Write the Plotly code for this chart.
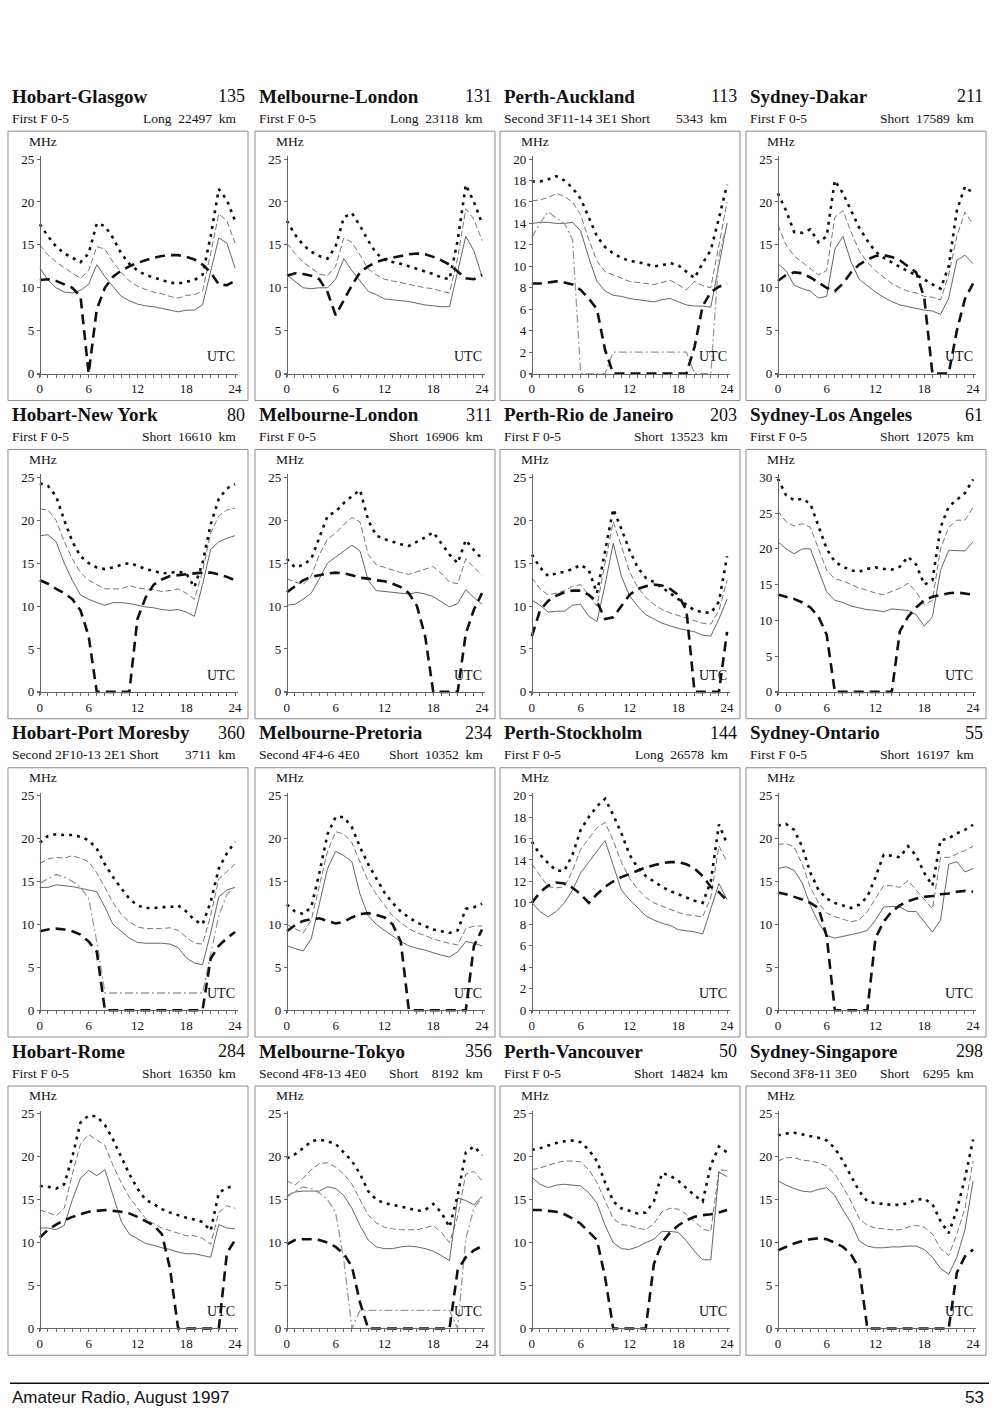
import plotly.graph_objects as go

HOURS = list(range(25))
X_TICK_TEXT = [str(h) if h % 6 == 0 else "" for h in HOURS]

# ---------- panel texts ----------
TITLES = ["Hobart-Glasgow", "Melbourne-London", "Perth-Auckland", "Sydney-Dakar",
          "Hobart-New York", "Melbourne-London", "Perth-Rio de Janeiro", "Sydney-Los Angeles",
          "Hobart-Port Moresby", "Melbourne-Pretoria", "Perth-Stockholm", "Sydney-Ontario",
          "Hobart-Rome", "Melbourne-Tokyo", "Perth-Vancouver", "Sydney-Singapore"]
NUMBERS = ["135", "131", "113", "211", "80", "311", "203", "61",
           "360", "234", "144", "55", "284", "356", "50", "298"]
SUB_LEFT = ["First F 0-5", "First F 0-5", "Second 3F11-14 3E1 Short", "First F 0-5",
            "First F 0-5", "First F 0-5", "First F 0-5", "First F 0-5",
            "Second 2F10-13 2E1 Short", "Second 4F4-6 4E0", "First F 0-5", "First F 0-5",
            "First F 0-5", "Second 4F8-13 4E0", "First F 0-5", "Second 3F8-11 3E0"]
SUB_RIGHT = ["Long  22497  km", "Long  23118  km", "5343  km", "Short  17589  km",
             "Short  16610  km", "Short  16906  km", "Short  13523  km", "Short  12075  km",
             "3711  km", "Short  10352  km", "Long  26578  km", "Short  16197  km",
             "Short  16350  km", "Short    8192  km", "Short  14824  km", "Short    6295  km"]
Y_MAX = [25, 25, 20, 25, 25, 25, 25, 30, 25, 25, 20, 25, 25, 25, 25, 25]
Y_DTICK = [5, 5, 2, 5, 5, 5, 5, 5, 5, 5, 2, 5, 5, 5, 5, 5]

# ---------- series (MHz at each UTC hour 0..24) ----------
# 1 Hobart-Glasgow
P1_TOP = [17.4,16.0,14.8,14.0,13.5,13.0,14.0,17.5,17.2,15.8,14.0,12.8,12.0,11.5,11.2,10.9,10.6,10.5,10.7,10.9,11.5,16.0,21.5,20.2,17.8]
P1_MID = [15.0,13.8,13.0,12.3,11.7,11.1,12.0,14.8,14.5,13.0,11.8,10.8,10.2,9.8,9.5,9.3,9.0,8.8,9.1,9.2,9.6,14.0,18.6,17.8,15.2]
P1_LOW = [12.3,10.9,10.0,9.5,9.4,9.7,10.4,12.7,11.3,10.2,9.0,8.5,8.1,7.9,7.8,7.6,7.4,7.2,7.4,7.4,8.0,12.0,15.8,15.2,12.3]
P1_ALF = [10.9,11.0,10.8,10.4,10.0,9.0,0.0,7.5,10.0,11.3,12.0,12.5,12.9,13.2,13.5,13.7,13.8,13.8,13.6,13.3,12.7,11.8,10.4,10.3,10.8]
# 2 Melbourne-London (long)
P2_TOP = [17.8,16.2,15.0,14.2,13.7,13.4,14.8,18.2,18.7,17.2,15.5,14.0,13.3,13.0,12.8,12.5,12.2,11.9,11.6,11.2,11.0,15.5,22.0,20.0,17.5]
P2_MID = [15.2,14.0,13.0,12.3,11.6,11.4,12.5,15.8,15.3,13.8,12.2,11.5,11.0,10.8,10.6,10.4,10.2,10.0,9.9,9.6,9.4,13.5,19.2,18.0,15.5]
P2_LOW = [11.5,10.8,10.0,9.9,10.0,10.0,11.0,13.4,12.0,10.8,9.6,9.2,8.7,8.6,8.5,8.4,8.2,8.0,7.9,7.8,7.8,12.0,16.0,14.3,11.3]
P2_ALF = [11.4,11.7,11.6,11.4,11.0,9.5,6.8,8.5,10.3,11.8,12.5,13.0,13.3,13.5,13.7,13.9,14.0,13.9,13.6,13.2,12.7,11.9,11.1,11.0,11.5]
# 3 Perth-Auckland
P3_TOP = [17.9,17.9,18.1,18.4,18.0,17.3,16.3,14.5,12.8,11.8,11.2,10.8,10.5,10.4,10.2,10.0,10.1,10.3,10.1,9.5,8.9,10.3,11.5,14.5,17.6]
P3_MID = [16.1,16.2,16.4,16.8,16.5,16.0,14.8,12.5,10.5,9.5,9.2,8.9,8.6,8.5,8.4,8.3,8.5,8.7,8.3,7.8,8.6,8.2,8.0,12.0,16.0]
P3_LOW = [14.0,14.1,14.1,14.0,14.0,14.1,13.3,10.8,8.6,7.7,7.3,7.2,7.0,6.9,6.8,6.7,6.9,7.0,6.7,6.4,6.3,6.3,6.2,10.0,14.0]
P3_ESL = [12.7,14.0,15.1,14.5,14.0,12.5,0.0,0.0,0.0,0.0,2.0,2.0,2.0,2.0,2.0,2.0,2.0,2.0,2.0,2.0,0.0,0.0,0.0,11.0,14.0]
P3_ALF = [8.4,8.4,8.5,8.6,8.5,8.3,7.8,7.0,6.0,2.2,0.0,0.0,0.0,0.0,0.0,0.0,0.0,0.0,0.0,0.0,2.5,6.3,7.6,8.1,8.4]
# 4 Sydney-Dakar
P4_TOP = [21.0,19.0,16.5,16.4,16.8,15.3,16.0,22.5,21.0,19.0,17.0,15.5,14.2,13.5,13.0,12.4,11.9,11.5,10.9,10.4,9.9,12.5,19.0,21.8,21.0]
P4_MID = [17.3,15.0,13.7,13.0,12.2,11.5,12.0,18.2,19.0,16.5,14.3,13.0,12.0,11.2,10.5,10.0,9.6,9.4,9.0,8.9,8.6,11.5,16.0,18.8,17.4]
P4_LOW = [12.8,12.0,10.3,9.9,9.6,8.8,9.0,14.5,16.0,13.0,11.0,10.2,9.5,8.9,8.4,8.0,7.8,7.6,7.4,7.3,6.9,8.8,13.2,13.8,12.8]
P4_ALF = [10.8,11.5,11.8,11.7,11.2,10.6,10.0,9.6,10.5,11.8,12.7,13.3,13.7,13.8,13.6,13.2,12.5,11.8,8.8,0.0,0.0,0.0,5.0,8.7,10.5]
# 5 Hobart-New York
P5_TOP = [24.3,24.0,22.8,20.0,17.5,15.8,15.0,14.5,14.3,14.5,14.8,15.0,14.7,14.3,14.1,13.8,13.9,14.0,13.8,12.2,15.0,19.5,22.5,23.7,24.2]
P5_MID = [21.3,21.2,20.0,17.5,15.5,13.9,13.0,12.5,12.0,12.0,12.0,12.4,12.1,12.0,11.9,11.7,11.8,12.0,11.5,10.8,14.0,18.5,20.5,21.2,21.4]
P5_LOW = [18.2,18.3,17.5,15.0,13.0,11.3,10.8,10.4,10.1,10.4,10.4,10.3,10.1,9.9,9.8,9.6,9.5,9.6,9.3,8.8,12.5,16.6,17.5,17.9,18.2]
P5_ALF = [13.0,12.6,12.0,11.5,10.8,9.5,6.5,0.0,0.0,0.0,0.0,0.0,8.5,11.0,12.5,13.1,13.5,13.6,13.7,13.8,13.9,13.9,13.7,13.4,13.0]
# 6 Melbourne-London (short)
P6_TOP = [15.5,14.5,14.8,15.5,18.0,20.5,21.0,22.0,22.8,23.5,20.0,18.2,17.8,17.5,17.2,17.0,17.5,18.0,18.6,17.3,16.0,15.0,17.7,16.5,15.5]
P6_MID = [13.2,12.8,12.5,13.5,16.0,17.8,18.5,19.5,20.3,19.8,16.0,14.8,14.5,14.2,13.9,13.7,14.0,14.3,14.6,13.8,12.8,12.6,15.5,14.5,13.6]
P6_LOW = [10.1,10.2,10.8,11.5,13.2,15.0,15.7,16.4,17.1,16.4,13.0,11.8,11.7,11.6,11.5,11.4,11.6,11.4,11.1,10.5,9.9,10.3,11.9,11.0,10.2]
P6_ALF = [11.6,12.3,13.0,13.4,13.6,13.8,13.9,13.8,13.6,13.3,13.2,13.0,12.9,12.6,12.2,11.5,10.0,6.5,0.0,0.0,0.0,0.0,6.8,9.6,11.5]
# 7 Perth-Rio de Janeiro
P7_TOP = [16.0,14.5,13.5,13.8,14.0,14.3,14.8,14.2,11.5,16.5,21.3,19.0,16.5,14.5,13.3,12.8,12.2,11.5,10.8,10.2,9.5,9.3,9.2,10.5,15.8]
P7_MID = [13.3,12.0,11.3,11.5,11.8,12.3,12.5,11.2,10.0,15.0,19.8,17.0,14.0,12.2,11.0,10.2,9.6,9.2,8.9,8.6,8.3,8.0,7.9,9.5,13.0]
P7_LOW = [10.7,10.1,9.3,9.4,9.4,10.1,10.2,8.8,8.2,12.5,17.3,13.5,11.2,10.0,9.0,8.5,8.0,7.7,7.4,7.2,7.0,6.6,6.5,8.5,10.8]
P7_ALF = [6.5,9.5,10.6,11.2,11.6,11.8,11.8,11.3,10.5,8.5,8.7,10.0,11.3,12.0,12.3,12.5,12.4,12.0,11.3,9.5,0.0,0.0,0.0,0.0,7.0]
# 8 Sydney-Los Angeles
P8_TOP = [29.8,27.5,26.8,27.0,26.3,23.0,20.0,18.2,17.5,17.0,16.8,17.2,17.4,17.2,17.1,17.5,18.9,17.8,15.0,15.6,23.0,25.9,26.8,27.8,29.7]
P8_MID = [25.3,23.8,23.2,23.5,23.0,20.0,17.0,15.8,15.5,15.0,14.5,14.2,13.8,13.6,14.0,14.5,15.2,14.0,12.2,12.8,20.0,23.0,24.0,24.0,25.8]
P8_LOW = [21.0,20.0,19.3,20.0,20.0,17.0,14.0,12.8,12.5,12.0,11.7,11.5,11.4,11.2,11.6,11.5,11.4,10.8,9.2,10.5,17.0,19.8,19.7,19.7,21.0]
P8_ALF = [13.6,13.3,13.0,12.5,11.8,10.5,8.0,0.0,0.0,0.0,0.0,0.0,0.0,0.0,0.0,8.5,10.5,11.8,12.8,13.3,13.6,13.8,13.9,13.8,13.6]
# 9 Hobart-Port Moresby
P9_TOP = [19.5,20.3,20.5,20.4,20.4,20.2,19.8,18.8,17.0,15.5,14.2,13.0,12.2,11.9,11.9,12.0,12.0,12.2,11.5,10.5,10.0,12.6,16.5,18.3,19.6]
P9_MID = [17.1,17.6,17.8,17.7,18.0,17.7,17.3,16.0,14.3,12.5,11.2,10.3,9.7,9.5,9.5,9.5,9.6,9.3,8.5,7.8,7.7,11.0,15.3,16.2,17.0]
P9_LOW = [14.3,14.3,14.6,14.5,14.4,14.2,14.0,13.8,12.0,10.0,9.2,8.4,7.9,7.8,7.8,7.8,7.7,7.3,6.1,5.5,5.3,9.0,13.2,14.0,14.3]
P9_ESL = [14.8,15.3,15.8,15.5,15.0,14.3,13.0,8.0,2.0,2.0,2.0,2.0,2.0,2.0,2.0,2.0,2.0,2.0,2.0,2.0,2.0,6.5,11.0,13.5,14.5]
P9_ALF = [9.2,9.4,9.5,9.4,9.2,8.8,8.0,6.8,0.0,0.0,0.0,0.0,0.0,0.0,0.0,0.0,0.0,0.0,0.0,0.0,0.0,6.0,7.5,8.4,9.1]
# 10 Melbourne-Pretoria
P10_TOP = [12.3,11.5,11.2,12.0,16.0,20.5,22.5,22.5,21.3,19.0,17.0,15.3,13.7,12.5,11.5,10.8,10.2,9.8,9.4,9.2,9.0,9.3,11.8,12.0,12.4]
P10_MID = [10.0,9.5,9.0,10.5,14.5,18.5,20.8,20.5,19.5,17.2,15.0,13.5,12.2,11.0,10.2,9.5,9.0,8.7,8.3,8.0,7.8,7.6,9.5,9.8,9.8]
P10_LOW = [7.5,7.2,6.9,8.3,12.5,16.5,18.5,18.0,17.3,13.5,11.0,10.0,9.3,8.6,8.0,7.5,7.2,7.0,6.7,6.4,6.2,6.8,8.0,7.8,7.5]
P10_ALF = [9.2,9.9,10.4,10.6,10.7,10.4,10.1,10.3,10.8,11.2,11.3,11.1,10.8,10.0,8.0,0.0,0.0,0.0,0.0,0.0,0.0,0.0,0.0,7.5,9.4]
# 11 Perth-Stockholm
P11_TOP = [15.7,14.5,13.7,13.0,13.0,14.5,16.8,18.0,19.0,19.7,18.2,16.5,14.5,13.3,12.5,12.0,11.5,11.1,10.8,10.5,10.2,10.0,12.0,17.3,15.5]
P11_MID = [13.6,12.5,11.5,11.4,11.5,13.0,15.0,16.0,17.0,17.5,15.8,13.8,12.3,11.3,10.5,10.0,9.7,9.4,9.1,8.9,8.8,8.7,10.5,15.3,13.8]
P11_LOW = [10.0,9.2,8.7,9.2,10.0,11.2,12.8,13.8,14.8,15.8,13.5,11.2,10.3,9.5,8.8,8.4,8.1,7.9,7.5,7.4,7.3,7.1,9.5,11.8,10.3]
P11_ALF = [10.0,11.0,11.6,11.9,11.8,11.4,10.8,10.0,10.8,11.5,12.0,12.4,12.7,13.0,13.3,13.5,13.7,13.8,13.8,13.6,13.2,12.5,11.5,11.0,10.2]
# 12 Sydney-Ontario
P12_TOP = [21.5,21.7,21.0,19.0,16.0,14.0,13.0,12.5,12.2,11.9,12.3,13.2,15.5,18.1,18.0,17.8,19.1,18.0,16.0,14.5,19.8,20.0,20.6,21.0,21.6]
P12_MID = [19.3,19.4,19.0,17.0,14.3,12.5,11.3,10.9,10.6,10.3,10.5,11.5,13.0,14.5,14.5,14.3,15.1,14.0,12.8,11.8,17.8,17.8,18.2,18.6,19.1]
P12_LOW = [16.5,16.7,16.3,14.8,12.2,10.2,8.7,8.4,8.6,8.8,9.0,9.3,10.5,12.0,12.1,12.0,11.5,11.5,10.3,9.1,10.5,17.0,17.3,16.1,16.5]
P12_ALF = [13.7,13.5,13.2,12.9,12.5,11.9,8.6,0.0,0.0,0.0,0.0,0.0,8.4,10.3,11.5,12.2,12.7,13.0,13.2,13.3,13.5,13.6,13.8,13.9,13.8]
# 13 Hobart-Rome
P13_TOP = [16.6,16.5,16.3,16.8,20.0,24.0,24.8,24.7,23.7,22.0,20.0,18.0,16.3,15.0,14.5,13.9,13.5,13.2,12.9,12.7,12.4,11.4,15.8,16.4,16.6]
P13_MID = [13.8,13.5,13.1,14.0,18.0,21.5,22.6,22.0,21.3,19.0,17.0,15.3,14.0,12.8,12.2,11.7,11.4,11.1,10.8,10.8,10.5,9.8,13.5,14.3,14.0]
P13_LOW = [11.7,11.7,11.5,12.0,15.0,17.5,18.4,17.8,18.5,15.5,12.5,11.0,10.4,9.9,9.7,9.4,9.2,8.9,8.7,8.7,8.5,8.3,12.1,11.7,11.6]
P13_ALF = [10.6,11.5,12.1,12.6,13.0,13.3,13.6,13.7,13.8,13.7,13.6,13.4,13.0,12.5,12.0,11.0,7.0,0.0,0.0,0.0,0.0,0.0,0.0,8.8,10.3]
# 14 Melbourne-Tokyo
P14_TOP = [19.8,20.3,21.0,21.8,22.0,21.8,21.5,20.5,19.5,18.0,16.0,15.0,14.6,14.4,14.2,14.0,13.7,13.8,14.5,13.5,11.8,15.5,20.5,21.2,20.2]
P14_MID = [17.2,16.7,17.5,18.5,19.2,19.3,18.8,18.0,16.8,15.0,13.2,12.3,11.8,11.6,11.5,11.5,11.5,11.7,12.0,11.2,10.0,13.0,18.0,18.3,17.2]
P14_LOW = [15.5,15.9,16.0,16.0,16.0,16.5,16.3,15.5,14.0,12.0,10.3,9.5,9.3,9.3,9.5,9.6,9.5,9.3,9.0,8.5,7.9,15.2,14.9,14.4,15.4]
P14_ESL = [15.3,16.0,16.5,16.3,15.8,15.0,13.5,8.0,0.0,2.1,2.1,2.1,2.1,2.1,2.1,2.1,2.1,2.1,2.1,2.1,2.1,0.0,10.5,14.0,15.3]
P14_ALF = [9.8,10.3,10.4,10.4,10.3,10.0,9.5,8.7,7.2,3.0,0.0,0.0,0.0,0.0,0.0,0.0,0.0,0.0,0.0,0.0,0.0,6.8,8.3,9.1,9.6]
# 15 Perth-Vancouver
P15_TOP = [20.8,21.0,21.3,21.6,21.8,21.9,21.7,20.8,19.5,17.0,14.8,14.0,13.7,13.4,13.5,14.8,18.1,17.8,17.2,16.3,15.5,14.8,19.0,21.2,20.5]
P15_MID = [18.5,18.7,19.0,19.3,19.5,19.5,19.4,18.5,17.0,14.8,12.8,12.1,12.0,11.7,11.5,12.2,13.6,14.0,13.9,13.3,12.5,11.6,11.3,18.5,18.4]
P15_LOW = [17.6,16.8,16.4,16.7,16.8,16.7,16.6,15.8,14.6,12.0,10.0,9.3,9.2,9.5,10.0,10.4,11.3,11.3,11.2,10.2,9.0,8.0,8.0,18.2,17.7]
P15_ALF = [13.8,13.8,13.7,13.6,13.3,12.8,12.2,11.3,10.3,6.0,0.0,0.0,0.0,0.0,0.0,7.5,10.0,11.2,12.0,12.6,13.0,13.2,13.3,13.5,13.8]
# 16 Sydney-Singapore
P16_TOP = [22.5,22.7,22.8,22.6,22.4,22.2,21.9,21.0,19.5,17.8,16.0,14.8,14.6,14.5,14.4,14.4,14.6,15.0,15.1,14.5,12.5,11.1,13.8,17.5,22.0]
P16_MID = [19.5,19.9,19.9,19.6,19.5,19.3,18.9,18.0,16.5,14.8,12.8,12.0,11.7,11.6,11.5,11.5,11.8,12.0,11.8,11.0,9.3,8.5,11.0,14.0,19.5]
P16_LOW = [17.2,16.7,16.3,16.0,15.9,16.2,16.4,15.5,13.8,12.3,10.2,9.6,9.4,9.4,9.5,9.5,9.6,9.6,9.2,8.3,7.0,6.3,8.3,11.5,17.2]
P16_ALF = [9.1,9.5,9.9,10.2,10.4,10.5,10.4,10.0,9.5,8.6,7.0,0.0,0.0,0.0,0.0,0.0,0.0,0.0,0.0,0.0,0.0,0.0,6.5,8.4,9.2]

SERIES = [
    (P1_TOP, P1_MID, P1_LOW, None, P1_ALF),
    (P2_TOP, P2_MID, P2_LOW, None, P2_ALF),
    (P3_TOP, P3_MID, P3_LOW, P3_ESL, P3_ALF),
    (P4_TOP, P4_MID, P4_LOW, None, P4_ALF),
    (P5_TOP, P5_MID, P5_LOW, None, P5_ALF),
    (P6_TOP, P6_MID, P6_LOW, None, P6_ALF),
    (P7_TOP, P7_MID, P7_LOW, None, P7_ALF),
    (P8_TOP, P8_MID, P8_LOW, None, P8_ALF),
    (P9_TOP, P9_MID, P9_LOW, P9_ESL, P9_ALF),
    (P10_TOP, P10_MID, P10_LOW, None, P10_ALF),
    (P11_TOP, P11_MID, P11_LOW, None, P11_ALF),
    (P12_TOP, P12_MID, P12_LOW, None, P12_ALF),
    (P13_TOP, P13_MID, P13_LOW, None, P13_ALF),
    (P14_TOP, P14_MID, P14_LOW, P14_ESL, P14_ALF),
    (P15_TOP, P15_MID, P15_LOW, None, P15_ALF),
    (P16_TOP, P16_MID, P16_LOW, None, P16_ALF),
]

# ---------- layout constants ----------
W, H = 1000, 1423
SERIF = "Liberation Serif, Times New Roman, serif"
SANS = "Liberation Sans Narrow, Liberation Sans, Arial, sans-serif"
BOX_LEFT = [8, 256, 502, 749]
ROW_PITCH = 320.3
PLOT_W = 196
PLOT_H = 216
PAD = 3

STYLES = [
    dict(color="#666666", width=0.9, dash="6px,3px"),            # mid
    dict(color="#555555", width=0.9, dash="solid"),              # low
    dict(color="#9a9a9a", width=1.3, dash="8px,3px,2px,3px"),    # E layer
    dict(color="#111111", width=2.6, dash="3px,5px"),            # top
    dict(color="#111111", width=2.6, dash="10px,6px"),           # alf
]


def px(xp):
    return xp / W


def py(yp):
    return 1 - yp / H


fig = go.Figure()
annotations = []
shapes = []

for i in range(16):
    r, c = divmod(i, 4)
    bl = BOX_LEFT[c]
    x0 = bl + 32
    top = 156 + ROW_PITCH * r
    zero = 372 + ROW_PITCH * r
    ymax = Y_MAX[i]
    ppx = PLOT_W / 24.0
    ppy = PLOT_H / ymax
    n = "" if i == 0 else str(i + 1)

    fig.layout["xaxis" + n] = dict(
        domain=[px(x0 - PAD), px(x0 + PLOT_W + PAD)],
        range=[-PAD / ppx, 24 + PAD / ppx],
        anchor="free", position=py(zero),
        showline=True, linecolor="#666666", linewidth=1,
        ticks="outside", ticklen=3, tickwidth=1, tickcolor="#666666",
        tickmode="array", tickvals=HOURS, ticktext=X_TICK_TEXT,
        tickfont=dict(family=SERIF, size=13, color="#111111"),
        showgrid=False, zeroline=False, fixedrange=True,
    )
    fig.layout["yaxis" + n] = dict(
        domain=[py(zero + PAD), py(top - PAD)],
        range=[-PAD / ppy, ymax + PAD / ppy],
        anchor="free", position=px(x0),
        showline=True, linecolor="#666666", linewidth=1,
        ticks="outside", ticklen=3, tickwidth=1, tickcolor="#666666",
        tickmode="array", tickvals=list(range(0, ymax + 1, Y_DTICK[i])),
        tickfont=dict(family=SERIF, size=13, color="#111111"),
        showgrid=False, zeroline=False, fixedrange=True,
    )

    top_s, mid_s, low_s, esl_s, alf_s = SERIES[i]
    for data, st in ((mid_s, STYLES[0]), (low_s, STYLES[1]), (esl_s, STYLES[2]),
                     (top_s, STYLES[3]), (alf_s, STYLES[4])):
        if data is None:
            continue
        fig.add_trace(go.Scatter(
            x=HOURS, y=data, mode="lines", line=st,
            xaxis="x" + n, yaxis="y" + n, hoverinfo="skip", showlegend=False,
        ))

    # frame
    by0 = 128 + ROW_PITCH * r
    by1 = 399 + ROW_PITCH * r
    shapes.append(dict(type="rect", xref="paper", yref="paper",
                       x0=px(bl), x1=px(bl + 241), y0=py(by1), y1=py(by0),
                       line=dict(color="#8a8a8a", width=1), fillcolor="rgba(0,0,0,0)"))

    ty = 93 + ROW_PITCH * r
    sy = 115 + ROW_PITCH * r
    annotations += [
        dict(text="<b>" + TITLES[i] + "</b>", x=px(bl + 2), y=py(ty), xanchor="left", yanchor="middle",
             font=dict(family=SERIF, size=19, color="#111111")),
        dict(text=NUMBERS[i], x=px(bl + 240), y=py(ty), xanchor="right", yanchor="middle",
             font=dict(family=SERIF, size=18, color="#111111")),
        dict(text=SUB_LEFT[i], x=px(bl + 2), y=py(sy), xanchor="left", yanchor="middle",
             font=dict(family=SERIF, size=13.5, color="#111111")),
        dict(text=SUB_RIGHT[i].replace(" ", "\u00a0"), x=px(bl + 231), y=py(sy), xanchor="right", yanchor="middle",
             font=dict(family=SERIF, size=13.5, color="#111111")),
        dict(text="MHz", x=px(bl + 35), y=py(top - 18), xanchor="center", yanchor="middle",
             font=dict(family=SERIF, size=13.5, color="#111111")),
        dict(text="UTC", x=px(x0 + PLOT_W + 2), y=py(zero - 17), xanchor="right", yanchor="middle",
             font=dict(family=SERIF, size=14, color="#111111")),
    ]

# footer
shapes.append(dict(type="line", xref="paper", yref="paper", x0=px(10), x1=px(993), y0=py(1388), y1=py(1388),
                   line=dict(color="#111111", width=1.5)))
annotations += [
    dict(text="Amateur Radio, August 1997", x=px(10), y=py(1402), xanchor="left", yanchor="middle",
         font=dict(family=SANS, size=17, color="#111111")),
    dict(text="53", x=px(990), y=py(1402), xanchor="right", yanchor="middle",
         font=dict(family=SANS, size=17, color="#111111")),
]
for a in annotations:
    a.update(xref="paper", yref="paper", showarrow=False)

fig.update_layout(
    width=W, height=H, autosize=False,
    margin=dict(l=0, r=0, t=0, b=0, pad=0),
    paper_bgcolor="white", plot_bgcolor="rgba(0,0,0,0)",
    showlegend=False, annotations=annotations, shapes=shapes,
)

fig.write_html("out.html", config={"displayModeBar": False},
               post_script="document.body.style.margin='0';")
